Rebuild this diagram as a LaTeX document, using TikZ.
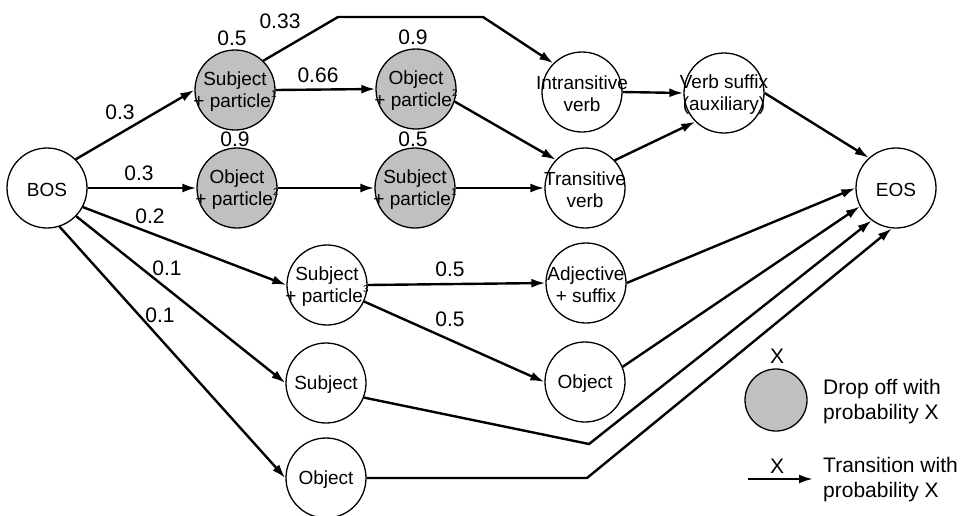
\documentclass[tikz,border=0pt]{standalone}
\usepackage{fontspec}
\setmainfont{Liberation Sans}
\usetikzlibrary{arrows.meta}
\definecolor{dropgray}{RGB}{192,192,192}
\newcommand\supn[1]{\raisebox{0.55em}{\fontsize{10}{10}\selectfont #1}}

\begin{document}
\begin{tikzpicture}[x=1pt,y=-1pt,
  state/.style={circle,draw,line width=1.3pt,minimum size=80pt,inner sep=0pt,fill=white},
  drop/.style={state,fill=dropgray},
  nodetext/.style={font=\fontsize{19}{22}\selectfont,align=center,inner sep=0pt,yshift=-2pt},
  prob/.style={font=\fontsize{21}{25}\selectfont,inner sep=0pt},
  trans/.style={line width=2.4pt,line join=miter,-{Latex[length=14pt,width=9pt]}},
  plain/.style={line width=2.4pt}]
\useasboundingbox (0,0) rectangle (968,515);

% states
\node[state] (bos)  at (47,188)  {};
\node[drop]  (sp1)  at (235,90)  {};
\node[drop]  (op2a) at (416,89)  {};
\node[drop]  (op2b) at (237,188) {};
\node[drop]  (sp1b) at (415,188) {};
\node[state] (iv)   at (582,92)  {};
\node[state] (tv)   at (585,188) {};
\node[state] (vs)   at (724,93)  {};
\node[state] (eos)  at (896,188) {};
\node[state] (sp3)  at (327,285) {};
\node[state] (subj) at (326,383) {};
\node[state] (objb) at (326,478) {};
\node[state] (adj)  at (586,283) {};
\node[state] (objr) at (585,382) {};

% state names
\node[nodetext] (bos-t)  at (bos)  {BOS};
\node[nodetext] (sp1-t)  at (sp1)  {Subject\\+ particle\supn{1}};
\node[nodetext] (op2a-t) at (op2a) {Object\\+ particle\supn{2}};
\node[nodetext] (op2b-t) at (op2b) {Object\\+ particle\supn{2}};
\node[nodetext] (sp1b-t) at (sp1b) {Subject\\+ particle\supn{1}};
\node[nodetext] (iv-t)   at (iv)   {Intransitive\\verb};
\node[nodetext] (tv-t)   at (tv)   {Transitive\\verb};
\node[nodetext] (vs-t)   at (vs)   {Verb suffix\\(auxiliary)};
\node[nodetext] (eos-t)  at (eos)  {EOS};
\node[nodetext] (sp3-t)  at (sp3)  {Subject\\+ particle\supn{3}};
\node[nodetext] (subj-t) at (subj) {Subject};
\node[nodetext] (objb-t) at (objb) {Object};
\node[nodetext] (adj-t)  at (adj)  {Adjective\\+ suffix};
\node[nodetext] (objr-t) at (objr) {Object};

% bend points
\coordinate (c1) at (338,17);
\coordinate (c2) at (483,17);
\coordinate (c3) at (589,444);
\coordinate (c4) at (587,478);

% transitions
\draw[trans] (bos.45)   -- (sp1.west);
\draw[trans] (bos.east) -- (op2b.west);
\draw[trans] (bos.-28)  -- (sp3.west);
\draw[trans] (bos.-44)  -- (subj.west);
\draw[trans] (bos.-72)  -- (objb.west);
\draw[trans] (sp1.east) -- (op2a.west);
\draw[trans] (sp1.46) -- (c1) -- (c2) -- (iv.135);
\draw[trans] (op2a.-18) -- (tv.136);
\draw[trans] (op2b.east) -- (sp1b.west);
\draw[trans] (sp1b.east) -- (tv.west);
\draw[trans] (iv.east) -- (vs.west);
\draw[trans] (tv.43) -- (vs.225);
\draw[trans] (vs.east) -- (eos.132);
\draw[trans] (sp3.east) -- (adj.west);
\draw[trans] (sp3.-24) -- (objr.west);
\draw[trans] (adj.east) -- (eos.180);
\draw[trans] (objr.22) -- (eos.207);
\draw[trans] (subj.-21) -- (c3) -- (eos.233);
\draw[trans] (objb.east) -- (c4) -- (eos.264);

% probabilities
\node[prob] (p1)  at (120,112) {0.3};
\node[prob] (p2)  at (139,173) {0.3};
\node[prob] (p3)  at (150,216) {0.2};
\node[prob] (p4)  at (167,268) {0.1};
\node[prob] (p5)  at (160,315) {0.1};
\node[prob] (p6)  at (280,21)  {0.33};
\node[prob] (p7)  at (318,75)  {0.66};
\node[prob] (p8)  at (450,269) {0.5};
\node[prob] (p9)  at (450,319) {0.5};
\node[prob] (d1)  at (232,38)  {0.5};
\node[prob] (d2)  at (413,37)  {0.9};
\node[prob] (d3)  at (235,139) {0.9};
\node[prob] (d4)  at (413,139) {0.5};

% legend
\node[drop,minimum size=62pt] (lg) at (776,400) {};
\node[prob] (lgx) at (777,356) {X};
\node[prob,align=left,anchor=west] (lgd) at (823,402) {Drop off with\\probability X};
\coordinate (la) at (748,479);
\coordinate (lb) at (813,479);
\draw[trans] (la) -- (lb);
\node[prob] (lax) at (777,466) {X};
\node[prob,align=left,anchor=west] (lgt) at (823,480) {Transition with\\probability X};
\end{tikzpicture}
\end{document}
